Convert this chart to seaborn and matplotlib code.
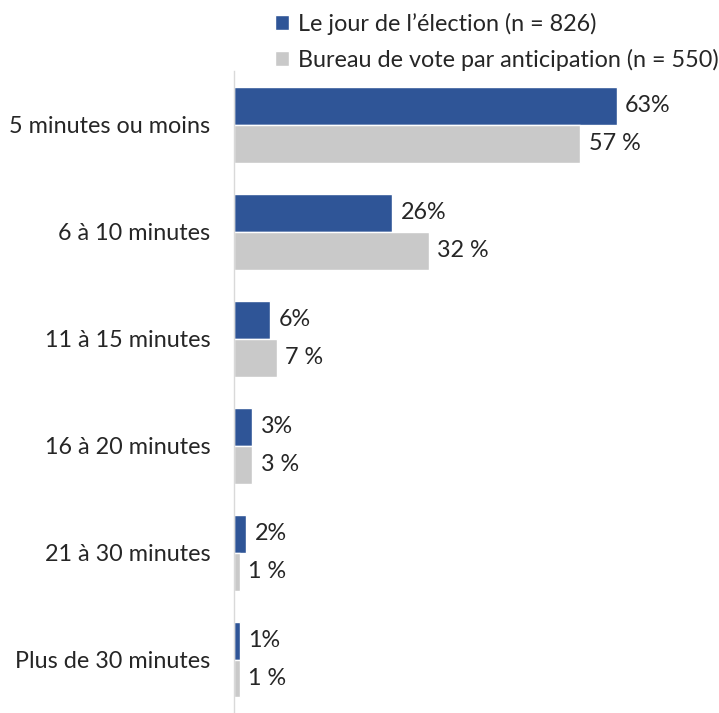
import matplotlib
matplotlib.use("Agg")
import matplotlib.pyplot as plt
import seaborn as sns
import pandas as pd

categories = ["5 minutes ou moins", "6 à 10 minutes", "11 à 15 minutes",
              "16 à 20 minutes", "21 à 30 minutes", "Plus de 30 minutes"]
series_names = ["Le jour de l’élection (n = 826)",
                "Bureau de vote par anticipation (n = 550)"]
election_day = [63, 26, 6, 3, 2, 1]
advance_poll = [57, 32, 7, 3, 1, 1]
election_labels = ["63%", "26%", "6%", "3%", "2%", "1%"]
advance_labels = ["57 %", "32 %", "7 %", "3 %", "1 %", "1 %"]

df = pd.DataFrame({
    "cat": categories * 2,
    "val": election_day + advance_poll,
    "series": [series_names[0]] * 6 + [series_names[1]] * 6,
})

sns.set_style("white")
plt.rcParams['font.family'] = ['Lato', 'DejaVu Sans']

FS = 16.8

fig = plt.figure(figsize=(7.19, 7.13), dpi=100)
ax = fig.add_axes([0.3255, 0.0, 0.6745, 0.90])

colors = ["#2f5597", "#c9c9c9"]
sns.barplot(data=df, y="cat", x="val", hue="series", orient="h",
            palette=colors, width=0.71, ax=ax, legend=True, saturation=1)

ax.set_xlim(0, 79.8)
ax.set_ylim(5.5, -0.5)
ax.set_xlabel("")
ax.set_ylabel("")
ax.set_xticks([])
for s in ["top", "right", "bottom"]:
    ax.spines[s].set_visible(False)
ax.spines["left"].set_color("#d9d9d9")
ax.spines["left"].set_linewidth(1)
ax.tick_params(axis="y", length=0, pad=17, labelsize=FS, labelcolor="#262626")

for cont, labs in zip(ax.containers, [election_labels, advance_labels]):
    ax.bar_label(cont, labels=labs, padding=6, fontsize=FS, color="#262626")

leg = ax.legend(loc="lower left", bbox_to_anchor=(0.065, 0.986), frameon=False,
                fontsize=FS, handlelength=0.6, handleheight=0.6,
                handletextpad=0.4, labelspacing=0.6, borderaxespad=0.0)
for t in leg.get_texts():
    t.set_color("#262626")

fig.savefig("out.png", dpi=100)
